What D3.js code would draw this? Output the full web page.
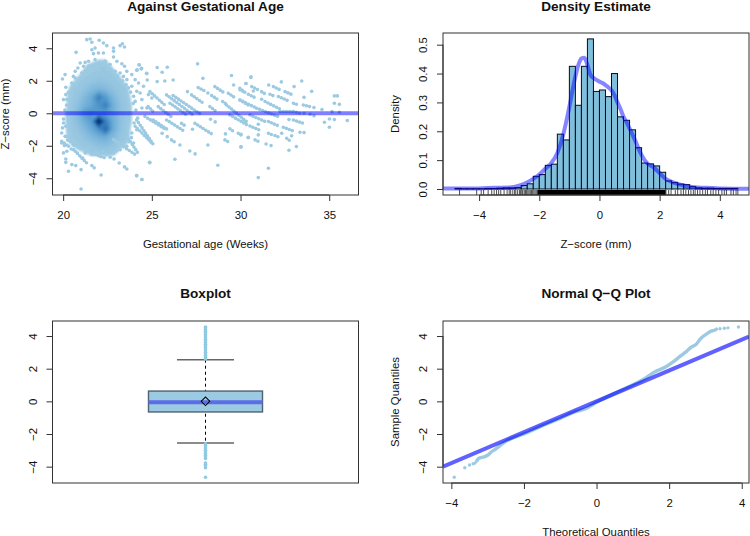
<!DOCTYPE html>
<html>
<head>
<meta charset="utf-8">
<title>Z-score diagnostics</title>
<script src="https://d3js.org/d3.v7.min.js"></script>
<style>
  body { margin: 0; background: #fff; font-family: "Liberation Sans", Arial, sans-serif; }
  text { fill: #111; }
  .title { font-size: 13.6px; font-weight: bold; text-anchor: middle; }
  .lab { font-size: 11.4px; text-anchor: middle; }
  .tick text { font-size: 11.4px; font-family: "Liberation Sans", Arial, sans-serif; fill: #111; }
  .tick line, .domain { stroke: #333; }
</style>
</head>
<body>
<div id="chart"></div>
<script>
// scatter: density grid
const gridX = [20, 20.4, 20.8, 21.2, 21.6, 22, 22.4, 22.8, 23.2, 23.6, 24, 24.4];
const gridY = [3.5, 3, 2.5, 2, 1.5, 1, 0.5, 0, -0.5, -1, -1.5, -2, -2.5, -3];
const gridZ = [
  0, 0, 0, 0, 0, .6, .6, 0, 0, 0, 0, 0,
  0, 0, 0, .6, 1, 1, 1, .6, 0, 0, 0, 0,
  0, 0, .5, 1, 1, 1.2, 1.2, 1, .6, 0, 0, 0,
  0, .5, 1, 1.1, 1.3, 1.5, 1.4, 1.2, 1, .5, 0, 0,
  0, 1, 1.1, 1.5, 2, 2.2, 2, 1.6, 1.2, 1, 0, 0,
  .5, 1, 1.3, 2, 2.8, 5, 3.5, 2.2, 1.4, 1, .5, 0,
  .5, 1, 1.6, 2.4, 3, 4, 5, 2.6, 1.6, 1.1, .6, 0,
  .6, 1.1, 2, 3.5, 4, 3.5, 3.4, 2.6, 1.6, 1.1, .6, 0,
  .6, 1.1, 1.7, 2.6, 3.5, 9.5, 5, 2.8, 1.7, 1.1, .6, 0,
  .6, 1, 1.4, 2, 2.8, 4, 6, 2.8, 1.6, 1, .5, 0,
  .5, 1, 1.1, 1.5, 2, 2.4, 2.6, 2, 1.3, 1, .4, 0,
  0, .7, 1, 1.1, 1.3, 1.6, 1.7, 1.4, 1, .7, 0, 0,
  0, 0, .5, .7, 1, 1, 1.1, 1, .5, 0, 0, 0,
  0, 0, 0, 0, 0, 0, 0, 0, 0, 0, 0, 0
];
// runs of nearly touching points: [age1, z1, age2, z2]
const stripes = [
  [24.89,1.33,25.73,.51],[25.83,1.13,27.33,-.1],[26.2,1.09,27.8,-.1],[27.24,1.13,27.9,.62],[27.61,1.58,27.99,1.37],
  [28.55,1.64,29.12,1.23],[28.37,1.09,28.74,.82],[29.31,1.23,29.68,.96],[28.99,.72,29.21,.55],[29.96,1.54,30.25,1.29],
  [29.96,.82,30.49,.47],[24.79,.41,25.17,0],[24.61,-.2,25.83,-1.03],[24.14,-.41,25.08,-1.91],[25.83,-.41,26.86,-1.13],
  [27.43,-.62,28.46,-1.33],[26.11,-1.64,26.39,-1.85],[29.12,-1.64,29.34,-1.78],[29.4,-.96,29.62,-1.13],[29.87,-1.23,30.15,-1.44],
  [28.27,.41,28.65,.1],[29.21,.51,30.34,-.51],[29.4,-.1,30.43,-.76],[25.36,.41,26.2,-.31],[26.02,.62,26.96,-.1],
  [25.08,-.41,25.92,-1.03],[26.67,-.62,26.86,-.76],
  [30.63,1.64,31,1.44],[31.85,1.64,32.23,1.44],[31.19,1.33,31.47,1.13],[30.44,1.17,30.82,.96],[31.66,1.17,31.94,1.03],
  [32.13,1.03,32.79,.72],[32.51,1.33,32.94,1.13],[29.97,1.44,30.25,1.29],[31.38,.72,32.32,.21],[29.97,.82,30.91,.31],
  [30.91,.31,32.23,-.25],[32.98,.62,33.26,.51],[33.54,.51,33.92,.41],[30.53,-.1,31.38,-.51],[31.57,-.51,32.23,-.82],
  [32.41,-.86,33.07,-1.13],[32.98,.1,33.35,0],[32.98,-.41,33.54,-.62],[30.53,-.78,31.1,-1.05],[30.16,-.41,30.35,-.72],
  [30.82,-1.64,31.1,-1.78],[31.57,-1.23,31.79,-1.33],[31.94,-1.37,32.19,-1.48],[32.6,-1.54,32.79,-1.7],[32.23,.1,32.98,.1],
  [20.68,-2.34,21.33,-3.06],[19.92,-1.72,20.3,-2.03],[21.8,-2.54,22.37,-2.75],[22.84,-1.62,24.06,-2.54],[24.06,-.8,25,-1.83],[23.59,-1.42,24.21,-2.44]
];
const agePoints = [
  [27.58,3.04],[27.88,2.15],[29.49,2.32],[29.61,1.74],[30.3,1.83],[27.01,1.33],[28.16,1.25],[26.2,2.05],[25.73,1.99],[25.3,1.95],
  [24.74,2.05],[24.7,2.46],[25.3,2.81],[25.58,2.52],[25.87,2.83],[24.42,2.77],[24.29,2.97],[24.17,2.67],[24.89,-3.04],[26.3,-2.83],
  [27.14,-2.32],[27.44,-2.5],[28.72,-3.2],[26.58,-1.95],[28.16,-1.95],[29.15,-1.27],[30.02,-2.07],[30.43,-1.5],[24.14,-3.84],[24.44,-4.08],
  [28.31,-.37],[28.57,-.53],[27.29,-.98],[25.58,-1.23],[25.87,-1.44],[30.59,2.24],[30.31,1.83],[31.59,1.74],[32.3,1.93],[33.45,1.99],
  [33.02,1.64],[34.01,1.35],[33.58,.98],[30.72,1.37],[31.19,.86],[34.14,.35],[34.59,.23],[34.14,-.16],[33.92,-.06],[33.58,0],
  [35.16,.1],[35.57,.06],[35.29,1.07],[35.46,1.07],[35.29,.62],[35.57,.55],[35.01,-.35],[35.29,-.39],[34.73,-.55],[35.01,-.86],
  [36.02,-.45],[32.73,-.39],[33.35,-1.17],[33.58,-1.19],[32.88,-1.39],[32.32,-1.23],[31,-1.33],[30.44,-1.48],[30.03,-1.29],[30.03,-2.07],
  [31.44,-1.89],[31.72,-1.99],[32.73,-2.28],[33.15,-2.05],[31.57,-3.38],[31,-3.96],[31,-.68],[30.58,2.2],
  [21.33,4.53],[21.52,4.57],[21.62,4.37],[22.03,4.49],[22.27,4.32],[22.46,4.16],[20.73,3.75],[22.84,4.02],[22.84,3.81],[23.21,4.16],
  [23.46,4.08],[23.34,4.28],[21.62,3.91],[21.8,4.02],[21.71,3.67],[21.99,3.71],[22.27,3.71],[22.84,3.46],[23.03,3.2],[23.31,3.05],
  [23.46,2.89],[24.28,2.99],[24.4,2.72],[24.72,2.44],[24.15,2.64],[20.11,2.38],[19.96,2.11],[20.15,1.6],[20.3,1.29],[20.15,1.15],
  [20.02,.84],[20.58,2.27],[20.96,3.09],[21.24,3.13],[21.43,3.2],[21.15,2.89],[20.83,2.79],[23.59,2.58],[23.87,2.38],[24.06,2.07],
  [24.25,1.86],[24.53,1.66],[24.81,1.15],[25,.94],[24.34,1.25],[24.44,.84],[24.72,.32],[24.44,.32],[24.06,.73],
  [21.01,-4.66],[20.3,-3.57],[20.49,-3.16],[20.71,-3.22],[20.15,-3.02],[20.15,-2.81],[21.01,-3.47],[21.62,-3.22],[21.75,-3.36],[22.14,-3.8],
  [22.87,-2.81],[23.16,-3.06],[23.46,-3.3],[23.59,-3.43],[24.15,-3.84],[24.44,-4.08],[24.87,-3.02],[20.02,-2.44],[20.21,-2.34],[20.45,-2.2],
  [19.92,-1.21],[19.96,-.9],[20.02,-.6],[20.02,-.35],[19.92,-1.83],[20.11,-1.42],[20.07,-1.99],
  [21.8,3.3],[22.09,3.1],[22.37,3.2],[22.65,3],[21.62,2.78],[22,2.68],[22.46,2.68],[22.93,2.58],[23.21,2.48],[21.05,2.48],
  [20.68,2.17],[20.49,1.86],[23.59,2.07],[23.87,1.66],[23.68,1.56],[24.15,1.35],[20.49,1.45],[20.21,.84],[20.68,2.58],[21.33,2.38],
  [23.4,2.27],[23.97,1.04],[20.49,1.04],[20.3,-2.03],[20.58,-2.24],[20.96,-2.13],[21.24,-2.44],[21.62,-2.54],[22.09,-2.65],[22.46,-2.54],
  [22.84,-2.44],[23.21,-2.24],[23.59,-2.03],[23.97,-1.83],[23.87,-1.21],[24.15,-1.01],[20.21,-1.42],[20.39,-1.72],
  [20.2,.5],[20.1,.2],[20.3,-.2],[20.15,-.8],[20.35,-1.1],[20.4,.7],[20.55,1.2],[20.75,1.7],[20.9,2.1],[21.1,2.2],
  [21.25,2.6],[21.45,2.9],[21.9,2.9],[22.25,2.95],[22.7,2.7],[23.05,2.3],[23.35,2],[23.55,1.75],[23.8,1.3],[23.95,.6],
  [24.1,.2],[24.2,-.3],[24,-.6],[23.85,-1.5],[23.7,-1.75],[23.35,-2],[23,-2.3],[22.65,-2.7],[22.25,-2.35],[21.9,-2.4],
  [21.4,-2.15],[21.1,-2.75],[20.8,-2.45],[20.6,-1.95],[20.45,-1.45],[20.25,-1.65]
];

// histogram, bins 0.2 wide starting at -4.8
const histStart = -4.8;
const histWidth = 0.2;
const histValues = [
  .002, .001, .001, .001, .001, .002, .002, .003, .004, .004,
  .005, .012, .018, .044, .05, .082, .086, .19, .17, .425, .29, .425, .52, .338, .343, .32, .4,
  .25, .238, .205, .143, .09, .087, .08, .058, .028, .022, .017, .015, .008, .004, .003, .003, .002,
  .002, .002, .002
];
const densX = [-5.2,-4,-3.5,-3,-2.8,-2.5,-2.2,-2,-1.8,-1.6,-1.4,-1.2,-1.1,-1,-.9,-.8,-.7,-.6,-.5,-.4,-.3,-.2,-.1,0,.1,.2,.3,.4,.5,.6,.7,.8,.9,1,1.1,1.2,1.3,1.4,1.5,1.6,1.8,2,2.2,2.4,2.6,2.8,3,3.5,4,5];
const densY = [.002,.002,.004,.005,.008,.018,.035,.05,.07,.09,.125,.19,.235,.285,.34,.39,.43,.452,.455,.43,.395,.385,.378,.372,.367,.36,.352,.342,.325,.3,.277,.25,.232,.21,.188,.165,.14,.118,.1,.088,.075,.055,.035,.025,.018,.012,.008,.004,.002,.001];
const rugTails = [-4.65,-4.08,-3.93,-3.85,-3.7,-3.58,-3.5,-3.42,-3.35,-3.28,-3.17,-3.07,-3,-2.95,-2.88,-2.82,-2.78,-2.72,-2.66,-2.62,-2.58,-2.55,-2.5,-2.46,-2.42,-2.38,-2.34,-2.3,-2.26,-2.22,-2.18,-2.14,-2.1,-2.06,
  2.21,2.3,2.38,2.52,2.6,2.71,2.79,2.87,2.96,3.04,3.12,3.18,3.26,3.34,3.43,3.52,3.59,3.7,3.78,3.87,3.96,4.07,4.15,4.22,4.37,4.45,4.54,4.6];
const rugSolid = [-2.05, 2.2];

// boxplot
const boxStats = { lowCap: -2.55, q1: -.65, median: -.05, q3: .63, highCap: 2.55, mean: 0 };
const boxOutliers = [2.6,2.7,2.8,2.9,3,3.1,3.2,3.3,3.4,3.5,3.6,3.7,3.8,3.9,4,4.1,4.2,4.3,4.4,4.5,4.55,
  -2.6,-2.7,-2.8,-2.9,-3,-3.1,-3.2,-3.3,-3.4,-3.5,-3.78,-3.85,-3.95,-4.07,-4.65];

// Q-Q
const qqCurve = [[-3.3,-3.65],[-3.25,-3.5],[-3.1,-3.4],[-3,-3.3],[-2.9,-3.1],[-2.8,-2.95],[-2.5,-2.45],[-2,-2],[-1.5,-1.5],[-1,-1.05],[-.6,-.65],[-.3,-.45],[0,-.06],[1,1.02],[1.3,1.35],[1.6,1.8],[1.9,2.1],[2.1,2.4],[2.3,2.75],[2.5,3.1],[2.6,3.3],[2.75,3.5],[2.85,3.8],[2.95,4],[3.05,4.15],[3.15,4.3],[3.25,4.35],[3.3,4.42]];
const qqPoints = [[-3.92,-4.65],[-3.63,-4.07],[-3.5,-3.9],[-3.4,-3.82],[-3.35,-3.78],[3.4,4.45],[3.52,4.48],[3.62,4.5],[3.91,4.55]];
const qqLine = [[-4.23,-4],[4.2,3.97]];

const zTicks = [-4, -2, 0, 2, 4];
const ageTicks = [20, 25, 30, 35];
const densTicks = [0, .1, .2, .3, .4, .5];

const dotCol = "#9ccae2";
const lineCol = "#0000ff";

const svg = d3.select("#chart").append("svg").attr("width", 750).attr("height", 536);
const defs = svg.append("defs");
defs.append("filter").attr("id", "soft").append("feGaussianBlur").attr("stdDeviation", 1.1);

function panel(id, left, top, xDomain, yDomain, xTicks, yTicks, yFmt, title, titleY, xLab, yLab, yLabX) {
  const w = 306, h = 162;
  const x = d3.scaleLinear().domain(xDomain).range([left, left + w]);
  const y = d3.scaleLinear().domain(yDomain).range([top + h, top]);
  defs.append("clipPath").attr("id", id).append("rect")
    .attr("x", left).attr("y", top).attr("width", w).attr("height", h);
  const g = svg.append("g").attr("clip-path", "url(#" + id + ")");

  svg.append("text").attr("class", "title").attr("x", left + w / 2).attr("y", titleY).text(title);
  if (xLab) svg.append("text").attr("class", "lab").attr("x", left + w / 2).attr("y", top + h + 52.5).text(xLab);
  if (yLab) svg.append("text").attr("class", "lab")
    .attr("transform", "translate(" + yLabX + "," + (top + h / 2) + ") rotate(-90)").text(yLab);

  const after = () => {
    svg.append("rect").attr("x", left).attr("y", top).attr("width", w).attr("height", h)
      .attr("fill", "none").attr("stroke", "#333");
    if (xTicks) svg.append("g").attr("transform", "translate(0," + (top + h) + ")")
      .call(d3.axisBottom(x).tickValues(xTicks).tickSize(6).tickPadding(10).tickFormat(d3.format("d")))
      .call(a => a.select(".domain").attr("d", "M" + x(xTicks[0]) + ",0H" + x(xTicks[xTicks.length - 1])));
    const ya = svg.append("g").attr("transform", "translate(" + left + ",0)")
      .call(d3.axisLeft(y).tickValues(yTicks).tickSize(6).tickFormat(yFmt));
    ya.select(".domain").attr("d", "M0," + y(yTicks[0]) + "V" + y(yTicks[yTicks.length - 1]));
    ya.selectAll(".tick text")
      .attr("x", null).attr("dy", null)
      .attr("text-anchor", "middle")
      .attr("transform", "translate(-16,0) rotate(-90)");
  };
  return { g, x, y, after };
}

// Against gestational age
const p1 = panel("p1", 52.5, 33, [19.4, 36.65], [-5.03, 4.94], ageTicks, zTicks, d3.format("d"),
  "Against Gestational Age", 10.5, "Gestational age (Weeks)", "Z\u2212score (mm)", 9);
const levels = d3.range(0.75, 9.5, 0.3);
const ramp = d3.scaleLinear()
  .domain([0.75, 1.3, 2.5, 4, 5.5, 7, 8.5])
  .range(["#9ccae2", "#92c3e0", "#6eaed8", "#4a90c8", "#2a6fb4", "#124c8e", "#08306b"]);
const contours = d3.contours().size([gridX.length, gridY.length]).thresholds(levels)(gridZ);
const gridPath = d3.geoPath(d3.geoTransform({
  point(cx, cy) {
    const dx = gridX[1] - gridX[0], dy = gridY[1] - gridY[0];
    this.stream.point(p1.x(gridX[0] + (cx - 0.5) * dx), p1.y(gridY[0] + (cy - 0.5) * dy));
  }
}));
p1.g.append("g").attr("filter", "url(#soft)").selectAll("path").data(contours).join("path")
  .attr("d", gridPath).attr("fill", d => ramp(d.value));
p1.g.selectAll(".stripe").data(stripes).join("line").attr("class", "stripe")
  .attr("x1", d => p1.x(d[0])).attr("y1", d => p1.y(d[1]))
  .attr("x2", d => p1.x(d[2])).attr("y2", d => p1.y(d[3]))
  .attr("stroke", dotCol).attr("stroke-width", 3.6).attr("stroke-linecap", "round")
  .attr("stroke-dasharray", "0 3.2");
p1.g.selectAll(".pt").data(agePoints).join("circle").attr("class", "pt")
  .attr("cx", d => p1.x(d[0])).attr("cy", d => p1.y(d[1])).attr("r", 1.8).attr("fill", dotCol);
p1.g.append("line").attr("x1", p1.x.range()[0]).attr("x2", p1.x.range()[1])
  .attr("y1", p1.y(0)).attr("y2", p1.y(0))
  .attr("stroke", lineCol).attr("stroke-opacity", .5).attr("stroke-width", 4);
p1.after();

// Density estimate
const p2 = panel("p2", 443, 33, [-5.2, 4.97], [-.0208, .5405], [-4, -2, 0, 2, 4], densTicks, d3.format(".1f"),
  "Density Estimate", 10.5, "Z\u2212score (mm)", "Density", 399);
p2.g.selectAll(".bar").data(histValues).join("rect").attr("class", "bar")
  .attr("x", (d, i) => p2.x(histStart + i * histWidth))
  .attr("width", p2.x(histWidth) - p2.x(0))
  .attr("y", d => p2.y(d))
  .attr("height", d => p2.y(0) - p2.y(d))
  .attr("fill", "#80bfdc").attr("stroke", "#0a0a1e").attr("stroke-width", 1);
p2.g.append("path")
  .attr("d", d3.line().curve(d3.curveMonotoneX).x(d => p2.x(d)).y((d, i) => p2.y(densY[i]))(densX))
  .attr("fill", "none").attr("stroke", lineCol).attr("stroke-opacity", .48).attr("stroke-width", 4);
p2.g.selectAll(".rug").data(rugTails).join("line").attr("class", "rug")
  .attr("x1", d => p2.x(d)).attr("x2", d => p2.x(d))
  .attr("y1", 190).attr("y2", 195).attr("stroke", "#000").attr("stroke-opacity", .7);
p2.g.append("rect").attr("x", p2.x(rugSolid[0])).attr("width", p2.x(rugSolid[1]) - p2.x(rugSolid[0]))
  .attr("y", 190).attr("height", 5).attr("fill", "#000");
p2.after();

// Boxplot
const p3 = panel("p3", 52.5, 321, [-1.0735, 1.0735], [-5, 4.92], null, zTicks, d3.format("d"),
  "Boxplot", 298, null, null, 0);
const bx = p3.x, by = p3.y;
p3.g.append("line").attr("x1", bx(0)).attr("x2", bx(0)).attr("y1", by(boxStats.highCap)).attr("y2", by(boxStats.lowCap))
  .attr("stroke", "#000").attr("stroke-dasharray", "3,3");
[boxStats.lowCap, boxStats.highCap].forEach(v => {
  p3.g.append("line").attr("x1", bx(-.2)).attr("x2", bx(.2)).attr("y1", by(v)).attr("y2", by(v))
    .attr("stroke", "#666").attr("stroke-width", 1.4);
});
p3.g.append("rect").attr("x", bx(-.4)).attr("width", bx(.4) - bx(-.4))
  .attr("y", by(boxStats.q3)).attr("height", by(boxStats.q1) - by(boxStats.q3))
  .attr("fill", "#9ccae2").attr("stroke", "#4f6370").attr("stroke-width", 1.4);
p3.g.append("line").attr("x1", bx(-.4)).attr("x2", bx(.4)).attr("y1", by(boxStats.median)).attr("y2", by(boxStats.median))
  .attr("stroke", "#5a6ee6").attr("stroke-width", 4);
p3.g.selectAll(".out").data(boxOutliers).join("circle").attr("class", "out")
  .attr("cx", bx(0)).attr("cy", d => by(d)).attr("r", 1.8).attr("fill", "#8fc9e3");
p3.g.append("path").attr("d", d3.symbol(d3.symbolSquare, 37)())
  .attr("transform", "translate(" + bx(0) + "," + by(boxStats.mean) + ") rotate(45)")
  .attr("fill", "none").attr("stroke", "#000").attr("stroke-width", 1);
p3.after();

// Normal Q-Q
const p4 = panel("p4", 443, 321, [-4.23, 4.2], [-5, 4.92], [-4, -2, 0, 2, 4], zTicks, d3.format("d"),
  "Normal Q\u2212Q Plot", 298, "Theoretical Quantiles", "Sample Quantiles", 399);
const qqL = d3.line().x(d => p4.x(d[0])).y(d => p4.y(d[1]));
p4.g.append("path").attr("d", d3.line().curve(d3.curveMonotoneX).x(d => p4.x(d[0])).y(d => p4.y(d[1]))(qqCurve))
  .attr("fill", "none").attr("stroke", dotCol).attr("stroke-width", 3.4).attr("stroke-linecap", "round");
p4.g.selectAll(".qp").data(qqPoints).join("circle").attr("class", "qp")
  .attr("cx", d => p4.x(d[0])).attr("cy", d => p4.y(d[1])).attr("r", 1.7).attr("fill", dotCol);
p4.g.append("path").attr("d", qqL(qqLine)).attr("fill", "none")
  .attr("stroke", lineCol).attr("stroke-opacity", .62).attr("stroke-width", 4);
p4.after();
</script>
</body>
</html>
